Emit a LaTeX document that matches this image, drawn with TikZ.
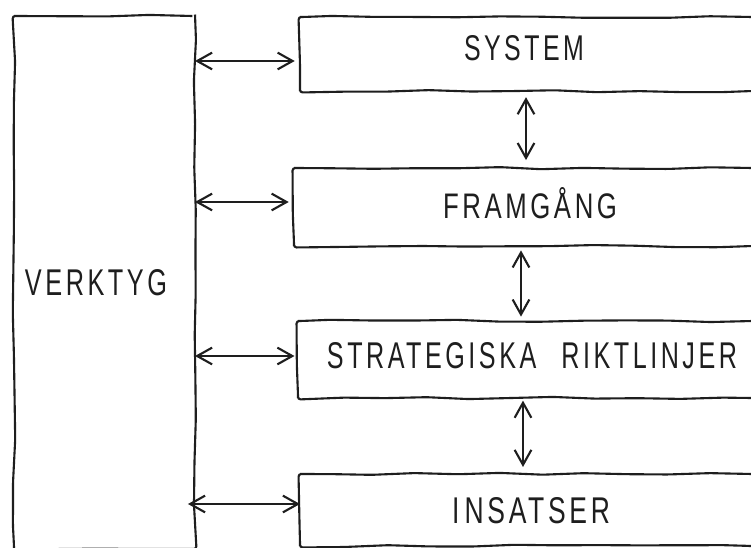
\documentclass[tikz,border=0pt]{standalone}
\usepackage{fontspec}
\usepackage{graphicx}
\setmainfont{Liberation Sans}[LetterSpace=14]
\usetikzlibrary{arrows.meta,decorations.pathmorphing}

\definecolor{ink}{HTML}{1E1E1E}
\newlength\pxu
\setlength\pxu{0.02cm}

\tikzset{
  panel/.style={draw=ink, line width=1.2pt, inner sep=0pt, outer sep=0pt,
    decorate, rounded corners=1.5pt,
    decoration={random steps, segment length=24pt, amplitude=0.7pt}},
  lab/.style={inner sep=0pt, text=ink},
  link/.style={draw=ink, line width=1.2pt,
    {Straight Barb[length=8.5pt,width=9.5pt]}-{Straight Barb[length=8.5pt,width=9.5pt]}},
}
% hand-lettered caption scaled to a given width and cap height (in px units)
\newcommand\handcap[3]{\resizebox{#1\pxu}{#2\pxu}{#3}}

\begin{document}
\begin{tikzpicture}[x=0.02cm,y=-0.02cm]
  \pgfmathsetseed{4711}
  \useasboundingbox (0,0) rectangle (751,548);
  \clip (0,0) rectangle (751,548);
  \fill[white] (0,0) rectangle (751,548);

  % tall column on the left
  \node[panel, minimum width=181\pxu, minimum height=533\pxu] (verktyg) at (104.5,282.5) {};
  % stacked bands on the right (running off the right edge)
  \node[panel, minimum width=455\pxu, minimum height=74\pxu] (sys)   at (527.5,54)  {};
  \node[panel, minimum width=461\pxu, minimum height=78\pxu] (fram)  at (524.5,207) {};
  \node[panel, minimum width=457\pxu, minimum height=77\pxu] (strat) at (526.5,359.5) {};
  \node[panel, minimum width=455\pxu, minimum height=72\pxu] (ins)   at (527.5,510) {};

  % captions
  \node[lab] (tverk)  at (96,283)  {\handcap{142}{26}{VERKTYG}};
  \node[lab] (tsys)   at (524,48)  {\handcap{120}{25}{SYSTEM}};
  \node[lab] (tfram)  at (530,203) {\handcap{174}{31}{FRAMGÅNG}};
  \node[lab] (tstrat) at (532,356) {\handcap{410}{26}{STRATEGISKA\hspace{1em}RIKTLINJER}};
  \node[lab] (tins)   at (531,511) {\handcap{158}{26}{I\hspace{0.2em}NSATSER}};

  % two-way links between the column and the bands
  \draw[link, shorten >=3pt] (verktyg.east |- 0,61)  -- (sys.west |- 0,61);
  \draw[link, shorten >=3pt] (verktyg.east |- 0,202) -- (fram.west |- 0,202);
  \draw[link, shorten >=2pt] (verktyg.east |- 0,356) -- (strat.west |- 0,356);
  \draw[link, shorten <=-4pt] (verktyg.east |- 0,504) -- (ins.west |- 0,504);

  % two-way links between neighbouring bands
  \draw[link, shorten <=3.5pt, shorten >=4.5pt] (526,0 |- sys.south)   -- (526,0 |- fram.north);
  \draw[link, shorten <=2.5pt, shorten >=2.5pt] (521,0 |- fram.south)  -- (521,0 |- strat.north);
  \draw[link, shorten <=1.5pt, shorten >=4pt]   (523,0 |- strat.south) -- (523,0 |- ins.north);
\end{tikzpicture}
\end{document}
